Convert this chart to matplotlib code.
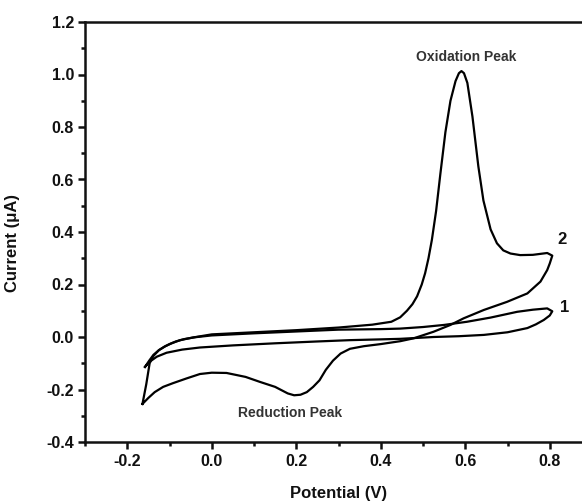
"""Cyclic voltammogram: blank cycle (1) and cycle with redox peaks (2)."""
import matplotlib
matplotlib.use("Agg")
import matplotlib.pyplot as plt
from matplotlib.ticker import MultipleLocator

# cycle 1: background loop, starts at the left vertex, anodic branch first
cv1_potential = [-0.158, -0.148, -0.138, -0.125, -0.112, -0.100, -0.085, -0.065, -0.040,
                 0.000, 0.100, 0.200, 0.300, 0.400, 0.446, 0.500, 0.550, 0.604, 0.660,
                 0.723, 0.760, 0.794, 0.806, 0.800, 0.786, 0.767, 0.747, 0.700, 0.644,
                 0.585, 0.525, 0.446, 0.400, 0.327, 0.250, 0.150, 0.050, -0.028, -0.070,
                 -0.107, -0.130, -0.145, -0.158]
cv1_current = [-0.114, -0.090, -0.068, -0.050, -0.037, -0.027, -0.017, -0.008, -0.001,
               0.006, 0.014, 0.021, 0.028, 0.030, 0.032, 0.038, 0.046, 0.058, 0.074,
               0.096, 0.104, 0.109, 0.098, 0.082, 0.065, 0.048, 0.034, 0.018, 0.008,
               0.003, 0.000, -0.007, -0.009, -0.012, -0.017, -0.024, -0.032, -0.040, -0.048,
               -0.060, -0.075, -0.092, -0.114]

# cycle 2: starts at the lower-left vertex, oxidation peak on the way up,
# reduction peak on the way back
cv2_potential = [-0.164, -0.155, -0.147, -0.138, -0.125, -0.110, -0.095, -0.075, -0.045,
                 0.000, 0.100, 0.200, 0.300, 0.380, 0.425, 0.446, 0.462, 0.475, 0.486,
                 0.497, 0.505, 0.513, 0.521, 0.531, 0.541, 0.553, 0.565, 0.577, 0.585,
                 0.591, 0.597, 0.605, 0.617, 0.631, 0.643, 0.660, 0.675, 0.690, 0.707,
                 0.730, 0.760, 0.794, 0.806, 0.800, 0.794, 0.778, 0.747, 0.699, 0.644,
                 0.596, 0.565, 0.525, 0.478, 0.446, 0.400, 0.360, 0.327, 0.305, 0.287,
                 0.270, 0.255, 0.240, 0.225, 0.210, 0.195, 0.180, 0.150, 0.114, 0.080,
                 0.035, 0.000, -0.028, -0.060, -0.092, -0.115, -0.135, -0.150, -0.164]
cv2_current = [-0.255, -0.180, -0.100, -0.072, -0.050, -0.035, -0.024, -0.012, -0.002,
               0.010, 0.018, 0.026, 0.036, 0.047, 0.058, 0.075, 0.100, 0.125, 0.155,
               0.200, 0.243, 0.300, 0.370, 0.480, 0.620, 0.780, 0.900, 0.975, 1.005,
               1.013, 1.005, 0.968, 0.840, 0.650, 0.520, 0.410, 0.357, 0.330, 0.318,
               0.312, 0.313, 0.320, 0.310, 0.280, 0.255, 0.211, 0.166, 0.134, 0.103,
               0.071, 0.046, 0.020, -0.005, -0.016, -0.027, -0.035, -0.045, -0.063, -0.090,
               -0.125, -0.165, -0.190, -0.210, -0.220, -0.222, -0.215, -0.190, -0.171, -0.152,
               -0.137, -0.136, -0.141, -0.158, -0.176, -0.190, -0.210, -0.232, -0.255]

cycle_labels = ["1", "2"]
peak_labels = ["Oxidation Peak", "Reduction Peak"]

FONT = "Liberation Sans"
INK = "#111111"

plt.rcParams["axes.unicode_minus"] = False


def plot_cv(save_path):
    fig = plt.figure(figsize=(5.82, 5.01), dpi=100)
    ax = fig.add_axes([85 / 582, 59 / 501, 507 / 582, 420 / 501])

    ax.plot(cv1_potential, cv1_current, color="black", lw=1.6, solid_joinstyle="round")
    ax.plot(cv2_potential, cv2_current, color="black", lw=1.6, solid_joinstyle="round")

    ax.set_xlim(-0.3, 0.9)
    ax.set_ylim(-0.4, 1.2)
    ax.xaxis.set_major_locator(MultipleLocator(0.2))
    ax.xaxis.set_minor_locator(MultipleLocator(0.1))
    ax.yaxis.set_major_locator(MultipleLocator(0.2))
    ax.yaxis.set_minor_locator(MultipleLocator(0.1))
    ax.set_xticks([-0.2, 0.0, 0.2, 0.4, 0.6, 0.8])

    for s in ax.spines.values():
        s.set_linewidth(1.8)
        s.set_color(INK)
    ax.tick_params(which="both", direction="out", top=False, right=False,
                   width=1.8, color=INK)
    ax.tick_params(which="major", length=5, pad=3)
    ax.tick_params(which="minor", length=3)
    ax.tick_params(axis="x", which="major", pad=4)

    for lab in ax.get_xticklabels() + ax.get_yticklabels():
        lab.set_fontfamily(FONT)
        lab.set_fontweight("bold")
        lab.set_fontsize(11.5)
        lab.set_color(INK)

    ax.set_xlabel("Potential (V)", fontsize=12, fontweight="bold", family=FONT, color=INK)
    ax.set_ylabel("Current (μA)", fontsize=12, fontweight="bold", family=FONT, color=INK)
    ax.xaxis.set_label_coords(0.5, -0.105)
    ax.yaxis.set_label_coords(-0.128, 0.474)

    txt = dict(family=FONT, fontweight="bold", ha="center", va="center")
    ax.text(0.603, 1.065, peak_labels[0], fontsize=10, color="#333333", **txt)
    ax.text(0.185, -0.291, peak_labels[1], fontsize=10, color="#333333", **txt)
    ax.text(0.835, 0.112, cycle_labels[0], fontsize=12, color=INK, **txt)
    ax.text(0.830, 0.370, cycle_labels[1], fontsize=12, color=INK, **txt)

    fig.savefig(save_path, dpi=100)


def main():
    plot_cv("out.png")


if __name__ == "__main__":
    main()
